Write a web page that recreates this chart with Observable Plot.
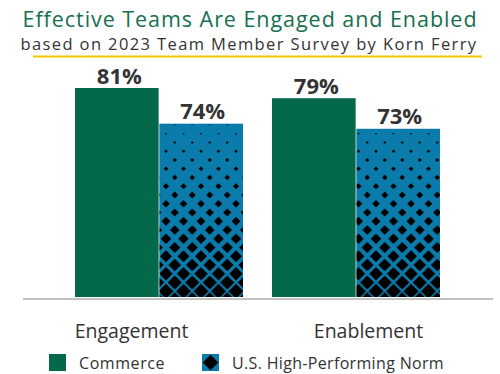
<!DOCTYPE html>
<html>
<head>
<meta charset="utf-8">
<script src="https://cdn.jsdelivr.net/npm/d3@7"></script>
<script src="https://cdn.jsdelivr.net/npm/@observablehq/plot@0.6"></script>
<style>
  html, body { margin: 0; padding: 0; background: #fff; }
  #wrap { width: 500px; height: 374px; position: relative; overflow: hidden; font-family: "Open Sans", sans-serif; }
  #wrap svg { display: block; }
</style>
</head>
<body>
<div id="wrap"></div>
<script>
// ---- data ----
const categories = ["Engagement", "Enablement"];
const commerceValues = [81, 79];
const normValues = [74, 73];
const seriesNames = ["Commerce", "U.S. High-Performing Norm"];
const titleText = "Effective Teams Are Engaged and Enabled";
const subtitleText = "based on 2023 Team Member Survey by Korn Ferry";
const yMin = 40;

// ---- style ----
const FONT = "Open Sans";
const GREEN = "#04694a";
const BLUE = "#0b7bab";
const TITLE_GREEN = "#16704f";
const TEXT = "#333333";
const HEADER_H = 58;

const wrap = d3.select("#wrap");

// ---- header ----
const header = wrap.append("svg").attr("width", 500).attr("height", HEADER_H);

// diamond halftone pattern (in the plot's coordinate space)
const defs = header.append("defs");
const pat = defs.append("pattern")
  .attr("id", "halftone")
  .attr("patternUnits", "userSpaceOnUse")
  .attr("x", 8.5).attr("y", 0)
  .attr("width", 17.5).attr("height", 250);
pat.append("rect").attr("width", 17.5).attr("height", 250).attr("fill", BLUE);
const diamond = (cx, cy, r) => `${cx},${cy - r} ${cx + r},${cy} ${cx},${cy + r} ${cx - r},${cy}`;
const top0 = 124 - HEADER_H, base0 = 297 - HEADER_H;
for (let k = 0; k <= 20; k++) {
  const cy = top0 + 1 + 8.75 * k;
  const t = Math.max(0, Math.min(1, (cy - top0) / (base0 - top0)));
  const r = 0.8 + 6.9 * Math.pow(t, 1.1);
  const xs = k % 2 === 0 ? [8.75] : [0, 17.5];
  for (const cx of xs) pat.append("polygon").attr("points", diamond(cx, cy, r)).attr("fill", "#000");
}

// widen text with letter-spacing to reach the reference width
function spread(sel, target) {
  const w = sel.node().getComputedTextLength();
  const n = sel.text().length;
  sel.attr("letter-spacing", (target - w) / n);
}

const title = header.append("text")
  .attr("x", 250).attr("y", 26.5).attr("text-anchor", "middle")
  .attr("font-family", FONT).attr("font-size", 21.5).attr("fill", TITLE_GREEN)
  .text(titleText);
spread(title, 455);
const subtitle = header.append("text")
  .attr("x", 249).attr("y", 49.5).attr("text-anchor", "middle")
  .attr("font-family", FONT).attr("font-size", 16.5).attr("fill", TEXT)
  .text(subtitleText);
spread(subtitle, 457);
header.append("line")
  .attr("x1", 33).attr("x2", 482).attr("y1", 56.5).attr("y2", 56.5)
  .attr("stroke", "#f6c400").attr("stroke-width", 2.2);

// ---- chart ----
const W = 500, ML = 23, MR = 7;
const padIn = 0.146, padOut = 0.2626;
const step = (W - ML - MR) / (categories.length - padIn + 2 * padOut);
const bw = step * (1 - padIn);

const commerce = categories.map((c, i) => ({category: c, value: commerceValues[i]}));
const norm = categories.map((c, i) => ({category: c, value: normValues[i]}));

const labelStyle = {frameAnchor: "bottom", dy: 34, lineAnchor: "middle", fontSize: 19.5, fill: TEXT};

const chart = Plot.plot({
  width: W,
  height: 289,
  marginLeft: ML,
  marginRight: MR,
  marginTop: 88 - HEADER_H,
  marginBottom: 347 - 297,
  style: {fontFamily: FONT, background: "transparent"},
  x: {domain: categories, paddingInner: padIn, paddingOuter: padOut, axis: null},
  y: {domain: [yMin, 81], clamp: true, axis: null},
  marks: [
    Plot.ruleY([yMin], {stroke: "#c2c2c2", strokeWidth: 2, dy: 1.5}),
    Plot.barY(commerce, {x: "category", y: "value", fill: GREEN, insetRight: bw / 2}),
    Plot.barY(norm, {x: "category", y: "value", fill: "url(#halftone)", insetLeft: bw / 2}),
    Plot.text(commerce, {x: "category", y: "value", text: d => `${d.value}%`, dx: -bw / 4 + 2, dy: -5,
      lineAnchor: "bottom", fontSize: 22, fontWeight: "bold", fill: TEXT}),
    Plot.text(norm, {x: "category", y: "value", text: d => `${d.value}%`, dx: bw / 4 + 1, dy: -5,
      lineAnchor: "bottom", fontSize: 22, fontWeight: "bold", fill: TEXT}),
    Plot.text(categories.slice(0, 1), {x: d => d, text: d => d, dx: -28, ...labelStyle}),
    Plot.text(categories.slice(1), {x: d => d, text: d => d, dx: 12, ...labelStyle})
  ]
});
wrap.node().appendChild(chart);

// ---- legend ----
const legend = wrap.append("svg").attr("width", 500).attr("height", 27);
legend.append("rect").attr("x", 49).attr("y", 7).attr("width", 17).attr("height", 17).attr("fill", GREEN);
const l1 = legend.append("text").attr("x", 79).attr("y", 21.5)
  .attr("font-family", FONT).attr("font-size", 16).attr("fill", TEXT).text(seriesNames[0]);
spread(l1, 86);
legend.append("rect").attr("x", 202).attr("y", 7).attr("width", 17).attr("height", 17).attr("fill", BLUE);
legend.append("polygon").attr("points", diamond(210.5, 15.5, 7.8)).attr("fill", "#000");
const l2 = legend.append("text").attr("x", 232).attr("y", 21.5)
  .attr("font-family", FONT).attr("font-size", 16).attr("fill", TEXT).text(seriesNames[1]);
spread(l2, 212);
</script>
</body>
</html>
